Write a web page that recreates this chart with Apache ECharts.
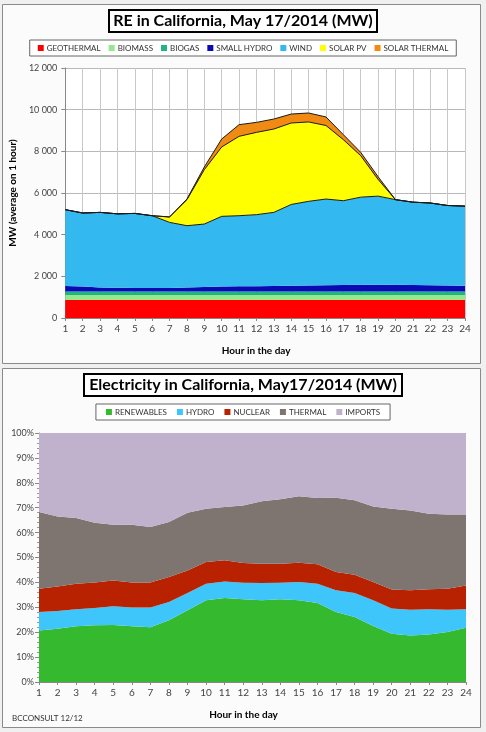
<!DOCTYPE html>
<html lang="en">
<head>
    <meta charset="UTF-8"/>
    <title>RE in California</title>
    <script src="https://cdn.jsdelivr.net/npm/echarts@6/dist/echarts.min.js"></script>
    <style>
        html, body { margin: 0; padding: 0; background: #f0f0f0; }
    </style>
</head>
<body>
<div id="main" style="width: 486px;height: 732px;"></div>
<script type="text/javascript">
    // hours of the day
    var hours = ['1','2','3','4','5','6','7','8','9','10','11','12','13','14','15','16','17','18','19','20','21','22','23','24'];

    // top chart: renewables, MW (average on 1 hour)
    var geothermal = [870,870,870,870,870,870,870,870,870,870,870,870,870,870,870,870,870,870,870,870,870,870,870,870];
    var biomass = [240,240,240,240,240,240,240,240,240,240,240,240,240,240,240,240,240,240,240,240,240,240,240,240];
    var biogas = [160,160,160,160,160,160,160,160,160,160,160,160,160,160,160,160,160,160,160,160,160,160,160,160];
    var smallHydro = [270,240,190,180,170,165,175,200,220,240,250,260,270,280,290,300,310,330,330,330,320,300,290,280];
    var wind = [3660,3530,3610,3550,3580,3475,3145,2960,3020,3370,3390,3430,3530,3900,4040,4140,4050,4200,4250,4080,3970,3950,3840,3820];
    var solarPV = [0,0,0,0,0,0,260,1250,2610,3330,3810,3950,4000,3910,3810,3530,2930,1990,800,0,0,0,0,0];
    var solarThermal = [0,0,0,0,0,0,0,30,130,380,560,480,480,430,430,410,240,160,130,0,0,0,0,0];
    var mwTicks = [0,2000,4000,6000,8000,10000,12000];

    // bottom chart: share of electricity, %
    var renewables = [20.7,21.4,22.4,22.8,22.9,22.4,22.0,24.8,28.8,32.8,33.7,33.2,32.8,33.2,32.8,31.7,28.1,26.1,22.5,19.4,18.7,19.1,20.1,21.8];
    var hydro = [7.4,7.1,6.8,6.9,7.5,7.5,7.9,7.3,6.9,6.7,6.7,6.7,7.0,6.7,7.4,7.8,8.7,9.6,10.3,10.1,10.3,10.1,8.9,7.4];
    var nuclear = [9.4,9.9,10.3,10.3,10.4,10.1,10.1,10.1,9.1,8.7,8.5,7.9,7.7,7.6,7.7,7.8,7.4,7.4,7.4,7.6,7.8,8.0,8.5,9.6];
    var thermal = [30.8,28.1,26.4,24.0,22.4,23.2,22.2,22.1,23.2,21.4,21.4,23.1,25.1,25.9,26.7,26.6,29.8,29.9,30.3,32.5,32.1,30.4,29.8,28.5];
    var imports = [31.7,33.5,34.1,36.0,36.8,36.8,37.8,35.7,32.0,30.4,29.7,29.1,27.4,26.6,25.4,26.1,26.0,27.0,29.5,30.4,31.1,32.4,32.7,32.7];

    var FONT = 'Lato';

    function area(name, data, color, stack, axis, outline) {
        return {
            name: name,
            type: 'line',
            stack: stack,
            xAxisIndex: axis,
            yAxisIndex: axis,
            data: data,
            symbol: 'none',
            smooth: false,
            lineStyle: outline ? {color: '#1a1a1a', width: 1} : {width: 0, color: color},
            itemStyle: {color: color},
            areaStyle: {color: color, opacity: 1},
            emphasis: {disabled: true}
        };
    }

    function spaced(v) {
        return String(v).replace(/\B(?=(\d{3})+(?!\d))/g, ' ');
    }

    var myChart = echarts.init(document.getElementById('main'));

    myChart.setOption({
        animation: false,
        textStyle: {fontFamily: FONT},
        graphic: [
            {type: 'rect', z: -10, shape: {x: 2.5, y: 4.5, width: 478, height: 359},
                style: {fill: '#fbfbfb', stroke: '#8a8a8a', lineWidth: 1}},
            {type: 'rect', z: -10, shape: {x: 2.5, y: 368.5, width: 478, height: 359},
                style: {fill: '#fbfbfb', stroke: '#8a8a8a', lineWidth: 1}},
            {type: 'text', left: 12, top: 714,
                style: {text: 'BCCONSULT 12/12', fill: '#333', font: '8px Lato'}}
        ],
        title: [{
            text: 'RE in California, May 17/2014 (MW)',
            left: 'center', top: 10,
            padding: [3, 5],
            borderColor: '#000', borderWidth: 2,
            backgroundColor: '#fff',
            textStyle: {fontFamily: FONT, fontSize: 16, fontWeight: 'bold', color: '#000'}
        }, {
            text: 'Electricity in California, May17/2014 (MW)',
            left: 'center', top: 374,
            padding: [3, 5],
            borderColor: '#000', borderWidth: 2,
            backgroundColor: '#fff',
            textStyle: {fontFamily: FONT, fontSize: 16, fontWeight: 'bold', color: '#000'}
        }],
        legend: [{
            data: ['GEOTHERMAL','BIOMASS','BIOGAS','SMALL HYDRO','WIND','SOLAR PV','SOLAR THERMAL'],
            left: 'center', top: 40,
            icon: 'rect', itemWidth: 6, itemHeight: 6, itemGap: 8,
            padding: [4, 8],
            borderColor: '#666', borderWidth: 1,
            backgroundColor: '#fff',
            textStyle: {fontFamily: FONT, fontSize: 8, color: '#333', padding: [0, 0, 0, -2]}
        }, {
            data: ['RENEWABLES','HYDRO','NUCLEAR','THERMAL','IMPORTS'],
            left: 'center', top: 404,
            icon: 'rect', itemWidth: 6, itemHeight: 6, itemGap: 10,
            padding: [4, 10],
            borderColor: '#666', borderWidth: 1,
            backgroundColor: '#fff',
            textStyle: {fontFamily: FONT, fontSize: 8, color: '#333', padding: [0, 0, 0, -2]}
        }],
        grid: [
            {left: 65, right: 21, top: 68, height: 250, show: true, backgroundColor: '#fff', borderWidth: 0},
            {left: 39, right: 20, top: 433, height: 249, show: false}
        ],
        xAxis: [{
            gridIndex: 0,
            type: 'category',
            data: hours,
            boundaryGap: false,
            name: 'Hour in the day',
            nameLocation: 'middle',
            nameGap: 28,
            nameTextStyle: {fontFamily: FONT, fontSize: 10, fontWeight: 'bold', color: '#000', padding: [0, 18, 0, 0]},
            axisLine: {lineStyle: {color: '#888'}},
            axisTick: {length: 3, lineStyle: {color: '#888'}},
            axisLabel: {color: '#444', fontSize: 10, margin: 6},
            splitLine: {show: true, lineStyle: {color: '#c8c8c8', width: 1}}
        }, {
            gridIndex: 1,
            type: 'category',
            data: hours,
            boundaryGap: false,
            name: 'Hour in the day',
            nameLocation: 'middle',
            nameGap: 28,
            nameTextStyle: {fontFamily: FONT, fontSize: 10, fontWeight: 'bold', color: '#000', padding: [0, 18, 0, 0]},
            axisLine: {lineStyle: {color: '#888'}},
            axisTick: {length: 3, lineStyle: {color: '#888'}},
            axisLabel: {color: '#444', fontSize: 10, margin: 6},
            splitLine: {show: false}
        }],
        yAxis: [{
            gridIndex: 0,
            type: 'value',
            min: mwTicks[0], max: mwTicks[mwTicks.length - 1], interval: 2000,
            name: 'MW (average on 1 hour)',
            nameLocation: 'middle',
            nameGap: 42,
            nameTextStyle: {fontFamily: FONT, fontSize: 10, fontWeight: 'bold', color: '#000'},
            axisLine: {show: true, lineStyle: {color: '#888'}},
            axisTick: {show: true, length: 4, lineStyle: {color: '#888'}},
            axisLabel: {color: '#444', fontSize: 9, margin: 8, formatter: spaced},
            splitLine: {show: true, lineStyle: {color: '#b8b8b8', width: 1}}
        }, {
            gridIndex: 1,
            type: 'value',
            min: 0, max: 100, interval: 10,
            axisLine: {show: true, lineStyle: {color: '#888'}},
            axisTick: {show: true, length: 4, lineStyle: {color: '#888'}},
            minorTick: {show: true, splitNumber: 5, length: 2, lineStyle: {color: '#999'}},
            axisLabel: {color: '#444', fontSize: 9, margin: 5, formatter: '{value}%'},
            splitLine: {show: false}
        }],
        series: [
            area('GEOTHERMAL', geothermal, '#ff0000', 're', 0, false),
            area('BIOMASS', biomass, '#93e98b', 're', 0, false),
            area('BIOGAS', biogas, '#1fb386', 're', 0, false),
            area('SMALL HYDRO', smallHydro, '#0a0ab4', 're', 0, false),
            area('WIND', wind, '#33b9ef', 're', 0, true),
            area('SOLAR PV', solarPV, '#ffff00', 're', 0, true),
            area('SOLAR THERMAL', solarThermal, '#f08a12', 're', 0, true),
            area('RENEWABLES', renewables, '#35b92e', 'el', 1, false),
            area('HYDRO', hydro, '#3ec6fb', 'el', 1, false),
            area('NUCLEAR', nuclear, '#b92200', 'el', 1, false),
            area('THERMAL', thermal, '#7e7470', 'el', 1, false),
            area('IMPORTS', imports, '#c0b1cc', 'el', 1, false)
        ]
    });
</script>

</body>
</html>
